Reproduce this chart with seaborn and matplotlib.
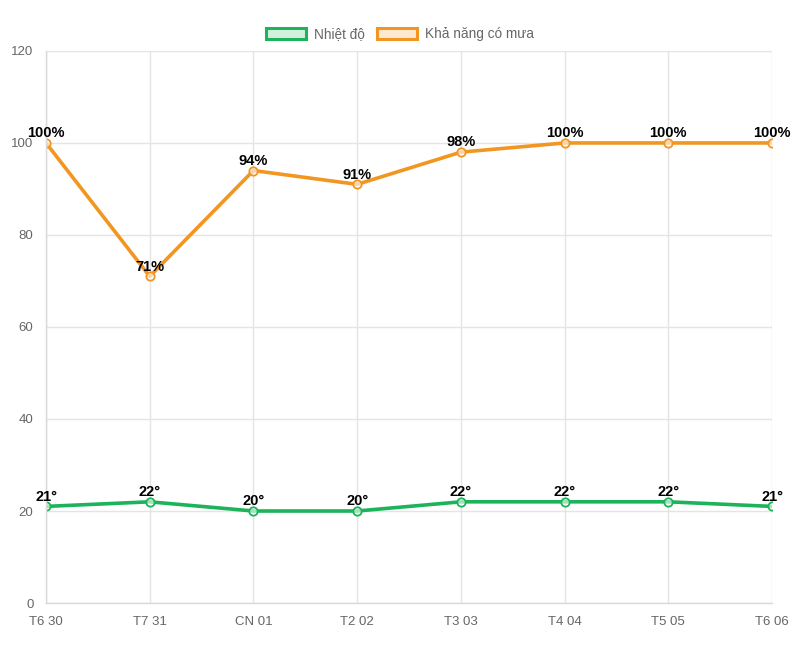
import seaborn as sns
import pandas as pd
import matplotlib.pyplot as plt
from matplotlib.patches import Patch

days = ['T6 30', 'T7 31', 'CN 01', 'T2 02', 'T3 03', 'T4 04', 'T5 05', 'T6 06']
temp = [21, 22, 20, 20, 22, 22, 22, 21]
rain = [100, 71, 94, 91, 98, 100, 100, 100]
series_names = ['Nhiệt độ', 'Khả năng có mưa']

green = '#1db35b'
orange = '#f29622'

sns.set_theme(style='white')
plt.rcParams['font.family'] = ['Liberation Sans', 'DejaVu Sans']

df = pd.DataFrame({
    'day': days * 2,
    'value': temp + rain,
    'series': [series_names[0]] * len(days) + [series_names[1]] * len(days),
})
df['x'] = list(range(len(days))) * 2

fig = plt.figure(figsize=(8, 6.48), dpi=100)
ax = fig.add_axes([0.0575, 0.0694, 0.9075, 0.852])

sns.lineplot(data=df, x='x', y='value', hue='series', palette=[green, orange],
             linewidth=2.6, marker='o', markersize=6, markeredgewidth=1.3,
             markerfacecolor='none', legend=False, ax=ax, sort=False)
for line, c in zip(ax.get_lines(), [green, orange]):
    line.set_markeredgecolor(c)
    line.set_markerfacecolor((1, 1, 1, 0.6))

# nhãn dữ liệu
for i, v in enumerate(temp):
    ax.text(i, v + 0.6, f'{v}°', ha='center', va='bottom', fontsize=10.5,
            fontweight='bold', color='black')
for i, v in enumerate(rain):
    ax.text(i, v + 0.6, f'{v}%', ha='center', va='bottom', fontsize=10.5,
            fontweight='bold', color='black')

ax.set_xlim(0, len(days) - 1)
ax.set_ylim(0, 120)
ax.set_xticks(range(len(days)))
ax.set_xticklabels(days)
ax.set_yticks(range(0, 121, 20))
ax.set_xlabel('')
ax.set_ylabel('')
ax.grid(True, color='#e4e4e4', linewidth=1)
ax.set_axisbelow(True)
for s in ['top', 'right']:
    ax.spines[s].set_visible(False)
for s in ['left', 'bottom']:
    ax.spines[s].set_color('#d9d9d9')
    ax.spines[s].set_linewidth(1)
ax.tick_params(axis='both', colors='#666666', labelsize=9.5, length=7,
               width=1, direction='out', pad=2)
ax.tick_params(axis='both', color='#e4e4e4')

handles = [Patch(facecolor='#d2f0de', edgecolor=green, linewidth=2.2),
           Patch(facecolor='#fde9d2', edgecolor=orange, linewidth=2.2)]
fig.legend(handles, series_names, loc='upper center', bbox_to_anchor=(0.5, 0.977),
           ncol=2, frameon=False, fontsize=9.8, handlelength=2.9, handleheight=0.95,
           handletextpad=0.6, columnspacing=0.9, labelcolor='#666666')

fig.savefig('out.png', dpi=100)
